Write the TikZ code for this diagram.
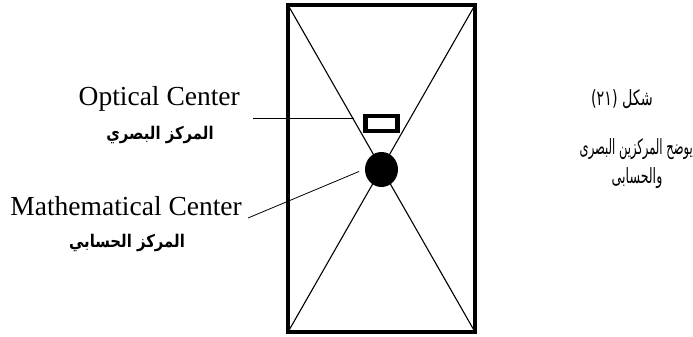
\documentclass[tikz,border=0pt]{standalone}
\usepackage{fontspec}
\setmainfont{Liberation Serif}
\newfontfamily\arabicfont[Script=Arabic]{DejaVu Sans}
\TeXXeTstate=1
\usetikzlibrary{shapes.geometric}
\tikzset{
  framebox/.style={draw, line width=4pt, minimum width=187pt, minimum height=327pt, inner sep=0pt, outer sep=0pt},
  diag/.style={line width=1.1pt},
  optmark/.style={draw, line width=4.5pt, minimum width=32pt, minimum height=15pt, inner sep=0pt, outer sep=0pt},
  mathmark/.style={ellipse, fill=black, minimum width=33pt, minimum height=35pt, inner sep=0pt},
  leader/.style={line width=0.8pt},
  latin/.style={font=\fontsize{27.5}{30}\selectfont, inner sep=0pt},
  arbold/.style={font=\arabicfont\bfseries\fontsize{17.5}{20}\selectfont, inner sep=0pt},
  arnorm/.style={font=\arabicfont\fontsize{21}{24}\selectfont, inner sep=0pt}
}
\begin{document}
\begin{tikzpicture}[x=1pt,y=-1pt]
\useasboundingbox (0,0) rectangle (693,337);
\node[framebox] (frame) at (381.5,168.5) {};
\draw[diag] (frame.north west) -- (frame.south east);
\draw[diag] (frame.north east) -- (frame.south west);
\node[optmark] (optbox) at (381.5,123.5) {};
\node[mathmark] (mathdot) at (381.5,169.5) {};
\node[latin, anchor=base east] (optlbl) at (240,105) {Optical Center};
\node[arbold] (optar) at (160,135) {\scalebox{0.85}[1]{\beginR المركز البصري\endR}};
\node[latin, anchor=base east] (mathlbl) at (242,215) {Mathematical Center};
\node[arbold] (mathar) at (127,243) {\scalebox{0.85}[1]{\beginR المركز الحسابي\endR}};
\coordinate (optstart) at (253,118);
\coordinate (optend) at (354,118);
\coordinate (mathstart) at (248,218);
\coordinate (mathend) at (359,171.5);
\draw[leader] (optstart) -- (optend);
\draw[leader] (mathstart) -- (mathend);
\node[arnorm] (fig) at (622,99) {\scalebox{0.68}[1]{\beginR شكل (٢١)\endR}};
\node[arnorm, anchor=east] (descA) at (693,149) {\scalebox{0.55}[1]{\beginR يوضح المركزين البصرى\endR}};
\node[arnorm] (descB) at (637,178) {\scalebox{0.6}[1]{\beginR والحسابى\endR}};
\end{tikzpicture}
\end{document}
